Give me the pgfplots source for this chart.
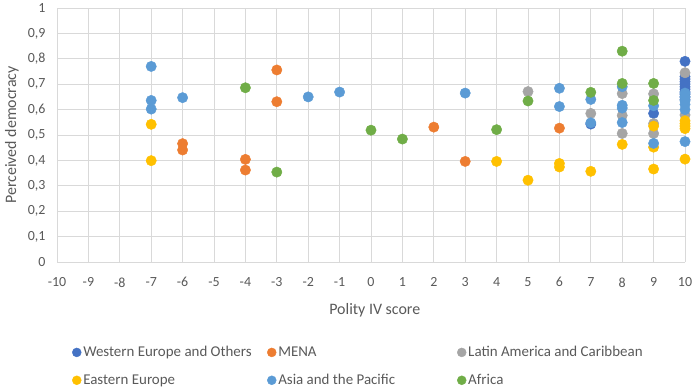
\documentclass[border=0pt]{standalone}
\usepackage{pgfplots}
\pgfplotsset{compat=1.18}
\usepackage{fontspec}
\setmainfont{Carlito}
\definecolor{cWE}{HTML}{4472C4}
\definecolor{cMENA}{HTML}{ED7D31}
\definecolor{cLA}{HTML}{A5A5A5}
\definecolor{cEE}{HTML}{FFC000}
\definecolor{cAP}{HTML}{5B9BD5}
\definecolor{cAF}{HTML}{70AD47}
\definecolor{txt}{HTML}{595959}
\definecolor{gridc}{HTML}{D9D9D9}
\definecolor{axc}{HTML}{BFBFBF}
\begin{document}
\begin{tikzpicture}[x=1bp,y=1bp]
\path[use as bounding box] (0,0) rectangle (700,388);
\begin{axis}[
  at={(57bp,126bp)}, anchor=south west,
  scale only axis, width=628bp, height=254bp,
  xmin=-10, xmax=10, ymin=0, ymax=1,
  xtick={-10,-9,-8,-7,-6,-5,-4,-3,-2,-1,0,1,2,3,4,5,6,7,8,9,10},
  ytick={0,0.1,0.2,0.3,0.4,0.5,0.6,0.7,0.8,0.9,1},
  grid=major,
  major grid style={gridc, line width=0.9bp},
  major tick length=0pt,
  axis line style={draw=none},
  extra x ticks={0}, extra x tick labels={},
  extra x tick style={grid style={axc, line width=1bp}},
  extra y ticks={0}, extra y tick labels={},
  extra y tick style={grid style={axc, line width=1bp}},
  /pgf/number format/assume math mode=true,
  yticklabel style={/pgf/number format/fixed, /pgf/number format/precision=1, /pgf/number format/use comma, xshift=-8bp},
  ticklabel style={font=\fontsize{14}{16}\selectfont, text=txt},
  xticklabel style={yshift=-12bp},
  xlabel={Polity IV score},
  ylabel={Perceived democracy},
  label style={font=\fontsize{16}{19}\selectfont, text=txt},
  xlabel style={at={(axis description cs:0.506,-0.189)}, anchor=center},
  ylabel style={at={(axis description cs:-0.0717,0.5)}, anchor=center},
  legend columns=3,
  legend cell align=left,
  legend style={at={(axis description cs:0.024,-0.324)}, anchor=north west,
    draw=none, fill=none, font=\fontsize{15}{18}\selectfont, text=txt,
    row sep=12bp, inner sep=0pt},
  legend image code/.code={\draw[mark size=4.5bp] plot coordinates {(0bp,0bp)};},
  every axis plot/.append style={only marks, mark=*, mark size=5.2bp},
]
\addplot[color=cWE] coordinates {
(10,0.790) (10,0.730) (10,0.720) (10,0.710) (10,0.700) (10,0.690)
(10,0.680) (10,0.670) (10,0.660) (10,0.650) (10,0.640)
(9,0.585) (7,0.543)
};
\addlegendentry{\makebox[182bp][l]{Western Europe and Others}}
\addplot[color=cMENA] coordinates {
(-6,0.466) (-6,0.441) (-4,0.404) (-4,0.362) (-3,0.756) (-3,0.631)
(2,0.531) (3,0.396) (6,0.527)
};
\addlegendentry{\makebox[177bp][l]{MENA}}
\addplot[color=cLA] coordinates {
(5,0.671) (7,0.585) (8,0.663) (8,0.577) (8,0.506)
(9,0.662) (9,0.545) (9,0.506) (10,0.745) (10,0.579)
};
\addlegendentry{Latin America and Caribbean}
\addplot[color=cEE] coordinates {
(-7,0.542) (-7,0.399) (4,0.396) (5,0.322) (6,0.388) (6,0.374)
(7,0.357) (8,0.463) (9,0.535) (9,0.452) (9,0.366)
(10,0.556) (10,0.545) (10,0.535) (10,0.525) (10,0.405)
};
\addlegendentry{\makebox[182bp][l]{Eastern Europe}}
\addplot[color=cAP] coordinates {
(-7,0.770) (-7,0.636) (-7,0.602) (-6,0.647) (-2,0.650) (-1,0.669)
(3,0.665) (6,0.684) (6,0.612) (7,0.640) (7,0.548)
(8,0.690) (8,0.617) (8,0.606) (8,0.549) (9,0.615) (9,0.467)
(10,0.665) (10,0.650) (10,0.635) (10,0.620) (10,0.600) (10,0.474)
};
\addlegendentry{\makebox[177bp][l]{Asia and the Pacific}}
\addplot[color=cAF] coordinates {
(-4,0.686) (-3,0.354) (0,0.519) (1,0.484) (4,0.521) (5,0.634)
(7,0.668) (8,0.830) (8,0.703) (9,0.703) (9,0.636)
};
\addlegendentry{Africa}
\end{axis}
\end{tikzpicture}
\end{document}
